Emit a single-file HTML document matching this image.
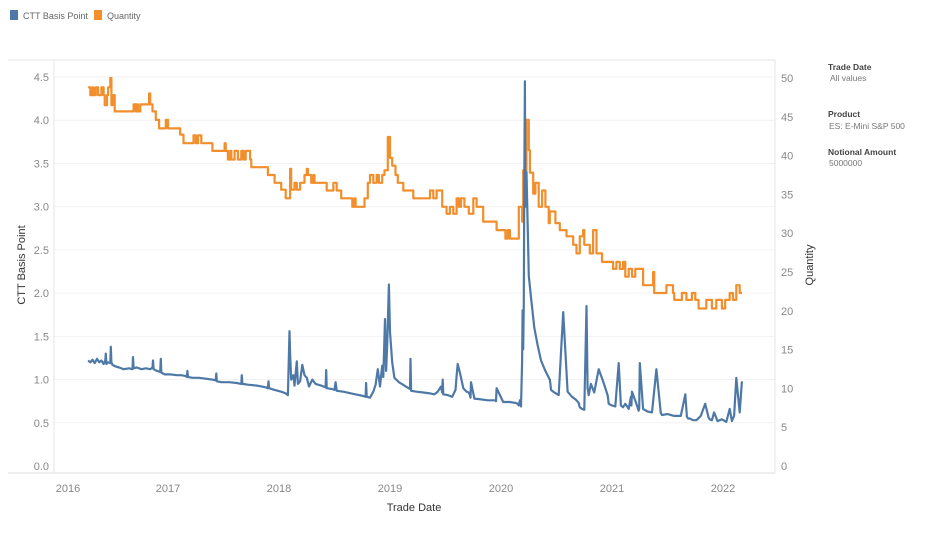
<!DOCTYPE html>
<html><head><meta charset="utf-8"><style>
body{margin:0;background:#fff;font-family:"Liberation Sans",sans-serif;}
svg text{font-family:"Liberation Sans",sans-serif;}
</style></head><body>
<svg id="chart" width="940" height="528" viewBox="0 0 940 528" xmlns="http://www.w3.org/2000/svg">
<g>
 <rect x="10" y="10" width="8" height="10" fill="#4e79a7"/>
 <text x="23" y="19" font-size="9" fill="#666">CTT Basis Point</text>
 <rect x="94" y="10" width="8" height="10" fill="#f28e2b"/>
 <text x="107" y="19" font-size="9" fill="#666">Quantity</text>
</g>
<g>
 <text x="828" y="70" font-size="8.5" font-weight="bold" fill="#444">Trade Date</text>
 <text x="830" y="81" font-size="8.5" fill="#777">All values</text>
 <text x="828" y="117" font-size="8.5" font-weight="bold" fill="#444">Product</text>
 <text x="829" y="129" font-size="8.5" fill="#777">ES: E-Mini S&amp;P 500</text>
 <text x="828" y="155" font-size="8.5" font-weight="bold" fill="#444">Notional Amount</text>
 <text x="829" y="166" font-size="8.5" fill="#777">5000000</text>
</g>
<g id="grid"></g>
<line x1="8" y1="60" x2="775" y2="60" stroke="#e6e6e6"/>
<line x1="54" y1="60" x2="54" y2="473" stroke="#e6e6e6"/>
<line x1="775" y1="60" x2="775" y2="473" stroke="#e6e6e6"/>
<line x1="8" y1="473" x2="775" y2="473" stroke="#ddd"/>
<g id="yl"></g>
<g id="yr"></g>
<g id="xt"></g>
<text x="0" y="0" transform="translate(25,265) rotate(-90)" text-anchor="middle" font-size="11" fill="#333">CTT Basis Point</text>
<text x="0" y="0" transform="translate(813,265) rotate(-90)" text-anchor="middle" font-size="11" fill="#333">Quantity</text>
<text x="414" y="511" text-anchor="middle" font-size="11" fill="#333">Trade Date</text>
<path id="qty" fill="none" stroke="#f28e2b" stroke-width="2.2" stroke-linejoin="round"/>
<path id="ctt" fill="none" stroke="#4e79a7" stroke-width="2.2" stroke-linejoin="round"/>
</svg>
<script>
const leftTicks=[0,0.5,1,1.5,2,2.5,3,3.5,4,4.5];
const rightTicks=[0,5,10,15,20,25,30,35,40,45,50];
const yearTicks=[2016,2017,2018,2019,2020,2021,2022];
const cttDates=[2016.28,2016.30,2016.32,2016.34,2016.36,2016.38,2016.40,2016.42,2016.435,2016.44,2016.445,2016.46,2016.48,2016.485,2016.49,2016.50,2016.53,2016.56,2016.60,2016.65,2016.68,2016.685,2016.69,2016.72,2016.76,2016.80,2016.84,2016.86,2016.865,2016.87,2016.90,2016.93,2016.935,2016.94,2016.97,2017.02,2017.08,2017.12,2017.16,2017.17,2017.175,2017.18,2017.22,2017.28,2017.34,2017.40,2017.43,2017.435,2017.44,2017.48,2017.55,2017.62,2017.66,2017.665,2017.67,2017.72,2017.80,2017.88,2017.90,2017.905,2017.91,2017.96,2018.02,2018.06,2018.08,2018.095,2018.10,2018.11,2018.13,2018.14,2018.16,2018.17,2018.19,2018.21,2018.23,2018.25,2018.27,2018.30,2018.33,2018.38,2018.42,2018.425,2018.43,2018.48,2018.50,2018.51,2018.52,2018.58,2018.65,2018.72,2018.76,2018.78,2018.785,2018.79,2018.82,2018.85,2018.87,2018.89,2018.91,2018.93,2018.94,2018.955,2018.965,2018.975,2018.99,2019.00,2019.02,2019.04,2019.08,2019.13,2019.18,2019.185,2019.19,2019.24,2019.30,2019.36,2019.40,2019.43,2019.46,2019.47,2019.475,2019.48,2019.52,2019.56,2019.59,2019.60,2019.61,2019.63,2019.66,2019.69,2019.71,2019.72,2019.725,2019.73,2019.76,2019.82,2019.88,2019.95,2019.955,2019.96,2020.02,2020.08,2020.13,2020.15,2020.16,2020.17,2020.18,2020.19,2020.195,2020.20,2020.205,2020.21,2020.215,2020.22,2020.23,2020.25,2020.27,2020.30,2020.33,2020.36,2020.40,2020.44,2020.445,2020.45,2020.48,2020.52,2020.56,2020.60,2020.64,2020.68,2020.70,2020.705,2020.71,2020.73,2020.75,2020.77,2020.78,2020.79,2020.81,2020.84,2020.88,2020.92,2020.96,2020.965,2020.97,2021.00,2021.03,2021.06,2021.08,2021.10,2021.12,2021.15,2021.17,2021.175,2021.18,2021.22,2021.24,2021.245,2021.25,2021.28,2021.32,2021.36,2021.40,2021.44,2021.445,2021.45,2021.50,2021.56,2021.62,2021.66,2021.675,2021.68,2021.685,2021.70,2021.73,2021.76,2021.80,2021.84,2021.87,2021.88,2021.90,2021.92,2021.95,2021.99,2022.03,2022.06,2022.08,2022.10,2022.12,2022.14,2022.15,2022.16,2022.17];
const cttValues=[1.22,1.20,1.23,1.19,1.24,1.20,1.22,1.18,1.22,1.30,1.18,1.20,1.19,1.38,1.20,1.17,1.15,1.14,1.12,1.13,1.12,1.26,1.13,1.14,1.12,1.13,1.12,1.14,1.22,1.12,1.10,1.09,1.24,1.08,1.06,1.06,1.05,1.05,1.04,1.03,1.10,1.03,1.02,1.02,1.01,1.00,0.99,1.07,0.98,0.97,0.97,0.96,0.95,1.05,0.95,0.94,0.93,0.91,0.90,0.98,0.90,0.88,0.86,0.84,0.82,1.56,1.30,1.00,1.05,0.93,1.21,0.95,0.98,1.17,1.05,1.02,0.92,1.00,0.95,0.93,0.91,1.11,0.90,0.89,0.88,0.97,0.87,0.86,0.84,0.82,0.81,0.80,0.96,0.80,0.79,0.86,0.94,1.12,0.92,1.16,1.03,1.70,1.10,1.40,2.10,1.55,1.20,1.02,0.97,0.93,0.89,1.24,0.87,0.86,0.85,0.84,0.83,0.86,0.92,0.85,1.00,0.83,0.82,0.80,0.88,1.04,1.18,1.08,0.90,0.86,0.85,0.82,0.79,0.97,0.78,0.77,0.76,0.76,0.75,0.90,0.74,0.74,0.73,0.72,0.70,0.76,0.69,1.20,1.80,1.35,1.90,3.30,4.45,3.00,3.40,2.20,1.95,1.60,1.40,1.22,1.10,1.00,0.95,0.88,0.85,0.82,1.78,0.86,0.80,0.76,0.73,0.70,0.68,0.66,0.65,1.85,0.90,0.82,0.95,0.85,1.12,0.98,0.82,0.78,0.72,0.70,0.69,1.19,0.70,0.68,0.72,0.66,0.80,0.70,0.86,0.72,0.64,0.66,1.19,0.66,0.63,0.62,1.12,0.61,0.60,0.59,0.60,0.58,0.58,0.83,0.57,0.56,0.55,0.55,0.53,0.53,0.58,0.72,0.56,0.54,0.53,0.62,0.52,0.54,0.51,0.66,0.52,0.58,1.02,0.76,0.62,0.80,0.98,0.85];
const qtyDates=[2016.28,2016.30,2016.32,2016.33,2016.35,2016.37,2016.40,2016.42,2016.43,2016.45,2016.46,2016.48,2016.49,2016.50,2016.52,2016.69,2016.71,2016.72,2016.73,2016.75,2016.83,2016.84,2016.86,2016.89,2016.92,2016.98,2017.00,2017.11,2017.14,2017.23,2017.25,2017.27,2017.30,2017.40,2017.51,2017.52,2017.54,2017.56,2017.57,2017.60,2017.63,2017.66,2017.68,2017.70,2017.74,2017.75,2017.90,2017.96,2018.02,2018.06,2018.10,2018.11,2018.14,2018.16,2018.19,2018.23,2018.25,2018.26,2018.29,2018.31,2018.32,2018.43,2018.49,2018.52,2018.56,2018.66,2018.68,2018.69,2018.77,2018.80,2018.82,2018.85,2018.88,2018.90,2018.93,2018.95,2018.98,2019.00,2019.02,2019.05,2019.07,2019.12,2019.21,2019.36,2019.39,2019.42,2019.47,2019.51,2019.54,2019.57,2019.60,2019.62,2019.64,2019.67,2019.71,2019.75,2019.78,2019.84,2019.96,2020.04,2020.06,2020.08,2020.16,2020.19,2020.20,2020.23,2020.25,2020.26,2020.29,2020.31,2020.34,2020.37,2020.40,2020.43,2020.44,2020.49,2020.53,2020.59,2020.65,2020.68,2020.71,2020.74,2020.75,2020.80,2020.83,2020.86,2020.91,2021.01,2021.04,2021.07,2021.10,2021.12,2021.15,2021.18,2021.21,2021.28,2021.37,2021.38,2021.49,2021.55,2021.56,2021.63,2021.67,2021.72,2021.75,2021.78,2021.85,2021.90,2021.94,2021.99,2022.02,2022.06,2022.09,2022.12,2022.15,2022.17];
const qtyValues=[48.8,47.8,48.8,47.8,48.8,47.8,48.8,47.8,46.5,47.8,48.8,50,46.5,47.8,45.7,46.6,45.7,46.6,45.7,46.6,48,46.6,45.7,44.6,43.5,44.6,43.5,42.7,41.6,42.6,41.6,42.6,41.6,40.6,41.6,40.6,39.5,40.6,39.5,40.6,39.5,40.6,39.5,40.6,39.5,38.5,37.5,36.5,35.6,34.5,38.3,35.6,36.5,35.6,36.5,37.5,38.3,37.5,36.5,37.5,36.5,35.5,36.5,35.5,34.5,33.4,34.5,33.4,34.5,36.5,37.5,36.5,37.5,36.5,37.5,38.1,42.4,39.7,38.7,37.5,36.5,35.5,34.5,35.5,34.5,35.5,33.4,32.5,33.4,32.5,34.5,33.4,34.5,33.4,32.5,34.5,33.4,31.5,30.4,29.3,30.4,29.3,33.4,31.5,38.1,44.6,40.7,37.8,35.1,36.5,33.4,35.5,33.4,31.3,32.8,31.3,30.4,29.6,28.5,27.4,29.6,30.4,28.5,27.4,30.4,27.4,26.3,25.4,26.3,25.4,26.3,24.4,25.4,24.4,25.4,23.3,25,22.3,23.3,22.3,21.4,22.3,21.4,22.3,21.4,20.3,21.4,20.3,21.4,20.3,21.4,22.3,21.4,23.3,22.3];

const X=d=>168+(d-2017)*111;
const YL=v=>466-v*86.44;
const YR=q=>466-q*7.76;
const NS='http://www.w3.org/2000/svg';
function mk(tag,attrs,parent,txt){const e=document.createElementNS(NS,tag);for(const k in attrs)e.setAttribute(k,attrs[k]);if(txt!==undefined)e.textContent=txt;parent.appendChild(e);return e;}
const grid=document.getElementById('grid'),yl=document.getElementById('yl'),yr=document.getElementById('yr'),xt=document.getElementById('xt');
leftTicks.forEach(t=>{
 if(t>0){const g=mk('line',{x1:54,x2:775,y1:YL(t),y2:YL(t),stroke:'#f2f2f2'},grid);
 
 }
 const l=mk('text',{x:49,y:YL(t)+4,'text-anchor':'end','font-size':'11',fill:'#888'},yl,t.toFixed(1));
 
 
});
rightTicks.forEach(t=>{
 const l=mk('text',{x:781,y:YR(t)+4,'font-size':'11',fill:'#888'},yr,String(t));
 
 
});
yearTicks.forEach(y=>{
 const px=y===2016?68:X(y);
 const l=mk('text',{x:px,y:492,'text-anchor':'middle','font-size':'11',fill:'#888'},xt,String(y));
 
 
});
let d='';
cttDates.forEach((t,i)=>{d+=(i?'L':'M')+X(t).toFixed(1)+','+YL(cttValues[i]).toFixed(1);});
document.getElementById('ctt').setAttribute('d',d);
let q='';
qtyDates.forEach((t,i)=>{const x=X(t).toFixed(1),y=YR(qtyValues[i]).toFixed(1);
 if(i===0)q+='M'+x+','+y;else q+='H'+x+'V'+y;});
q+='H'+X(2022.18).toFixed(1);
document.getElementById('qty').setAttribute('d',q);
</script>
</body></html>
